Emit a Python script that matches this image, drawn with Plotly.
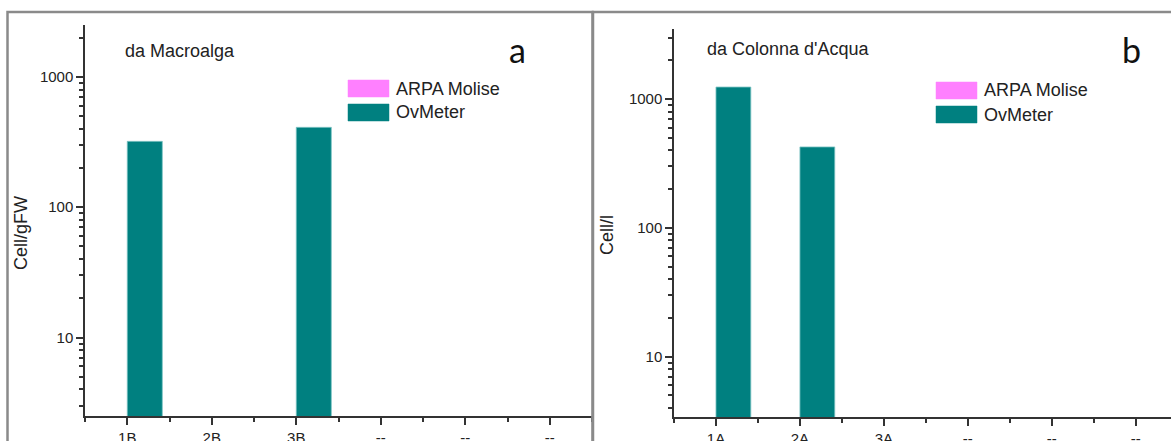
import math
import plotly.graph_objects as go

# ---- data ----
series_names = ["ARPA Molise", "OvMeter"]
series_colors = ["#FF80FF", "#008080"]

cats_a = ["1B", "2B", "3B", "--", "--", "--"]
arpa_a = [None, None, None, None, None, None]
ovmeter_a = [320, None, 410, None, None, None]

cats_b = ["1A", "2A", "3A", "--", "--", "--"]
arpa_b = [None, None, None, None, None, None]
ovmeter_b = [1240, 425, None, None, None, None]

W, H = 1171, 441
FONT = "Liberation Sans, Arial, sans-serif"
AXIS_COL = "#333333"
FRAME_COL = "#8a8a8a"


def px_x(p):
    return p / W


def px_y(p):
    return 1 - p / H


def minor_logs(lo, hi):
    vals = []
    for dec in range(-1, 5):
        for d in range(2, 10):
            v = d * 10 ** dec
            if lo <= v <= hi:
                vals.append(v)
    return vals


fig = go.Figure()

panels = [
    ("x", "y", cats_a, [arpa_a, ovmeter_a]),
    ("x2", "y2", cats_b, [arpa_b, ovmeter_b]),
]
for xa, ya, cats, values in panels:
    xs = list(range(len(cats)))
    for name, col, vals in zip(series_names, series_colors, values):
        fig.add_trace(go.Bar(
            x=xs, y=vals, name=name, xaxis=xa, yaxis=ya,
            marker=dict(color=col, line=dict(color="#7fc4c4", width=0.8)),
            showlegend=False,
        ))


def xaxis_cfg(domain, cats, rng):
    return dict(
        domain=domain, range=rng, showgrid=False, zeroline=False,
        showline=True, linecolor=AXIS_COL, linewidth=1.5,
        tickmode="array", tickvals=list(range(len(cats))), ticktext=cats,
        ticks="outside", ticklen=7, tickwidth=1.5, tickcolor=AXIS_COL,
        minor=dict(tickmode="array",
                   tickvals=[i - 0.5 for i in range(len(cats) + 1)],
                   ticks="outside", ticklen=4, tickwidth=1.5, tickcolor=AXIS_COL),
        tickfont=dict(family=FONT, size=15, color="#222"),
        automargin=False, fixedrange=True,
    )


def yaxis_cfg(domain, anchor, lo, hi):
    return dict(
        domain=domain, anchor=anchor, type="log",
        range=[math.log10(lo), math.log10(hi)],
        showgrid=False, zeroline=False,
        showline=True, linecolor=AXIS_COL, linewidth=1.5,
        tickmode="array", tickvals=[10, 100, 1000], ticktext=["10", "100", "1000"],
        ticks="outside", ticklen=7, tickwidth=1.5, tickcolor=AXIS_COL,
        minor=dict(tickmode="array", tickvals=minor_logs(lo, hi),
                   ticks="outside", ticklen=4, tickwidth=1.5, tickcolor=AXIS_COL),
        tickfont=dict(family=FONT, size=15, color="#222"),
        automargin=False, fixedrange=True,
    )


fig.update_layout(
    width=W, height=H,
    margin=dict(l=0, r=0, t=0, b=0),
    paper_bgcolor="white", plot_bgcolor="white",
    barmode="group", bargap=0.17, bargroupgap=0,
    xaxis=xaxis_cfg([px_x(85), px_x(592)], cats_a, [-0.5, 5.5]) | dict(anchor="y"),
    yaxis=yaxis_cfg([px_y(416), px_y(25)], "x", 2.5, 2500),
    xaxis2=xaxis_cfg([px_x(674), 1.0], cats_b, [-0.5, 5.42]) | dict(anchor="y2"),
    yaxis2=yaxis_cfg([px_y(417), px_y(29)], "x2", 3.4, 3500),
)

# panel frames
fig.add_shape(type="rect", xref="paper", yref="paper",
              x0=px_x(7.5), x1=px_x(592.5), y0=-0.2, y1=px_y(12),
              line=dict(color=FRAME_COL, width=2.5), layer="above")
fig.add_shape(type="rect", xref="paper", yref="paper",
              x0=px_x(593), x1=1.2, y0=-0.2, y1=px_y(12),
              line=dict(color=FRAME_COL, width=2.5), layer="above")

annotations = []

# panel titles
annotations.append(dict(text="da Macroalga", x=px_x(123), y=px_y(51),
                        xanchor="left", yanchor="middle"))
annotations.append(dict(text="da Colonna d'Acqua", x=px_x(705), y=px_y(49),
                        xanchor="left", yanchor="middle"))
for a in annotations:
    a.update(xref="paper", yref="paper", showarrow=False,
             font=dict(family=FONT, size=18, color="#222"))

# panel letters
for letter, cx, cy in [("a", 517, 50), ("b", 1131, 50)]:
    annotations.append(dict(text=letter, x=px_x(cx), y=px_y(cy), xref="paper",
                            yref="paper", showarrow=False, xanchor="center",
                            yanchor="middle",
                            font=dict(family="Lato, Open Sans, sans-serif",
                                      size=34, color="#111")))

# axis titles
for title, cx, cy in [("Cell/gFW", 21, 233), ("Cell/l", 607, 235)]:
    annotations.append(dict(text=title, x=px_x(cx), y=px_y(cy), xref="paper",
                            yref="paper", showarrow=False, textangle=-90,
                            xanchor="center", yanchor="middle",
                            font=dict(family=FONT, size=18, color="#222")))

# legends (swatch + label per series)
legend_pos = [(348, 80, 24), (936, 82, 24)]
for lx, ly, step in legend_pos:
    for i, (name, col) in enumerate(zip(series_names, series_colors)):
        top = ly + i * step
        fig.add_shape(type="rect", xref="paper", yref="paper",
                      x0=px_x(lx), x1=px_x(lx + 41), y0=px_y(top + 17), y1=px_y(top),
                      fillcolor=col, line=dict(color=col, width=0.5))
        annotations.append(dict(text=name, x=px_x(lx + 46), y=px_y(top + 8.5),
                                xref="paper", yref="paper", showarrow=False,
                                xanchor="left", yanchor="middle",
                                font=dict(family=FONT, size=18, color="#222")))

fig.update_layout(annotations=annotations)

fig.write_html("out.html")
